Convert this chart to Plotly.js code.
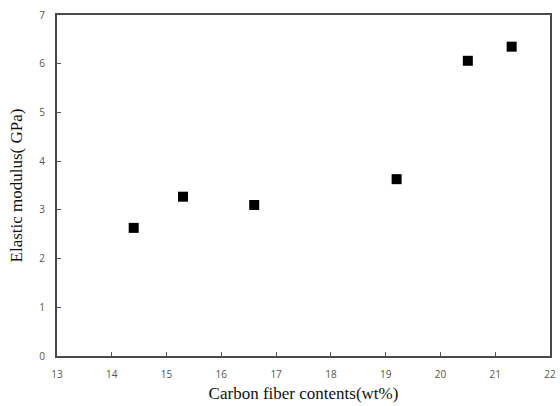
<!DOCTYPE html>
<html>
<head>
<meta charset="utf-8">
<script src="https://cdn.plot.ly/plotly-3.0.1.min.js"></script>
<style>html,body{margin:0;padding:0;background:#fff;}#chart{width:560px;height:406px;}</style>
</head>
<body>
<div id="chart"></div>
<script>
// Carbon fiber content (wt%) vs. elastic modulus (GPa)
const fiberContent = [14.4, 15.3, 16.6, 19.2, 20.5, 21.3];
const elasticModulus = [2.63, 3.27, 3.10, 3.63, 6.06, 6.35];
const xTicks = [13, 14, 15, 16, 17, 18, 19, 20, 21, 22];
const yTicks = [0, 1, 2, 3, 4, 5, 6, 7];

const trace = {
  x: fiberContent,
  y: elasticModulus,
  type: 'scatter',
  mode: 'markers',
  marker: {symbol: 'square', size: 10, color: '#000'},
  hoverinfo: 'x+y'
};

const tickFont = {family: 'Open Sans, sans-serif', size: 10, color: '#555'};
const titleFont = {family: 'Liberation Serif, serif', size: 17, color: '#111'};

const layout = {
  width: 560, height: 406,
  margin: {l: 57, r: 10, t: 15, b: 50},
  paper_bgcolor: '#fff', plot_bgcolor: '#fff',
  showlegend: false,
  xaxis: {
    range: [13, 22], tickvals: xTicks, ticktext: xTicks.map(String),
    ticks: 'inside', ticklen: 4, tickcolor: '#555', tickwidth: 1,
    showgrid: false, zeroline: false,
    showline: true, linecolor: '#4a4a4a', linewidth: 2, mirror: true,
    tickfont: tickFont, ticklabelstandoff: 8,
    title: {text: 'Carbon fiber contents(wt%)', font: titleFont, standoff: 7}
  },
  yaxis: {
    range: [0, 7], tickvals: yTicks, ticktext: yTicks.map(String),
    ticks: 'inside', ticklen: 4, tickcolor: '#555', tickwidth: 1,
    showgrid: false, zeroline: false,
    showline: true, linecolor: '#4a4a4a', linewidth: 2, mirror: true,
    tickfont: tickFont, ticklabelstandoff: 8,
    title: {text: 'Elastic modulus( GPa)', font: titleFont, standoff: 12}
  }
};

Plotly.newPlot('chart', [trace], layout, {displayModeBar: false, staticPlot: true});
</script>
</body>
</html>
